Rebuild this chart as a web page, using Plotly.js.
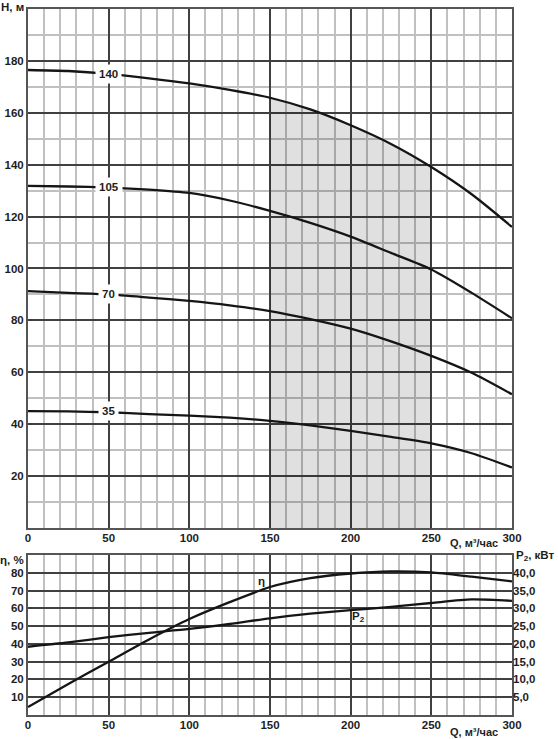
<!DOCTYPE html>
<html>
<head>
<meta charset="utf-8">
<script src="https://cdn.plot.ly/plotly-3.0.1.min.js"></script>
<style>html,body{margin:0;padding:0;background:#fff;}#chart{width:558px;height:739px;}</style>
</head>
<body>
<div id="chart"></div>
<script>
// ---- data ----
var Q = [0, 25, 50, 75, 100, 125, 150, 175, 200, 225, 250, 275, 300];
var H140 = [176.5, 176.1, 175.0, 173.3, 171.3, 168.8, 165.8, 161.3, 155.2, 148.0, 139.1, 128.6, 116.0];
var H105 = [131.8, 131.6, 131.2, 130.4, 129.1, 126.2, 122.2, 117.6, 112.3, 106.0, 99.6, 90.6, 80.8];
var H70  = [91.3, 90.6, 90.0, 88.8, 87.5, 85.8, 83.6, 80.5, 76.8, 71.9, 66.3, 59.8, 51.5];
var H35  = [45.0, 44.9, 44.6, 43.9, 43.3, 42.5, 41.3, 39.5, 37.4, 35.1, 32.6, 28.8, 23.3];
var curveLabels = ['140', '105', '70', '35'];
var labelQ = 50;
var labelH = [174.9, 131.3, 90.3, 45.0];

var shadeFrom = 150, shadeTo = 250;

var Qeta = [0, 25, 50, 75, 100, 125, 150, 175, 200, 225, 250, 275, 300];
var eta  = [4.5, 17.5, 30.0, 42.5, 54.0, 63.5, 72.0, 77.0, 79.6, 80.8, 80.2, 77.8, 75.2];
var Qp2  = [0, 25, 50, 75, 100, 125, 150, 175, 200, 225, 250, 275, 300];
var P2   = [19.2, 20.4, 21.9, 23.1, 24.2, 25.6, 27.2, 28.5, 29.5, 30.4, 31.5, 32.5, 32.1];

var xTicks = [0, 50, 100, 150, 200, 250, 300];
var hTicks = [20, 40, 60, 80, 100, 120, 140, 160, 180];
var etaTicks = [10, 20, 30, 40, 50, 60, 70, 80];
var p2Ticks = [5, 10, 15, 20, 25, 30, 35, 40];
var p2TickText = ['5,0', '10,0', '15,0', '20,0', '25,0', '30,0', '35,0', '40,0'];

// ---- styles ----
var FONT = 'Liberation Sans, Arial, sans-serif';
var tf = {family: FONT, size: 11.5, color: '#1e1e1e', weight: 'bold'};
var lineCol = '#151515';
var majorGrid = '#404040', minorGrid = '#c0c0c0';
var spl = {shape: 'spline', smoothing: 0.7};

// shaded region from H140 series
var sQ = [], sH = [];
for (var i = 0; i < Q.length; i++) {
  if (Q[i] >= shadeFrom && Q[i] <= shadeTo) { sQ.push(Q[i]); sH.push(H140[i]); }
}

var traces = [
  {x: sQ, y: sH, xaxis: 'x', yaxis: 'y', mode: 'lines', line: {width: 0, shape: spl.shape, smoothing: spl.smoothing},
   fill: 'tozeroy', fillcolor: 'rgba(0,0,0,0.12)', hoverinfo: 'skip'}
];
[H140, H105, H70, H35].forEach(function (h) {
  traces.push({x: Q, y: h, xaxis: 'x', yaxis: 'y', mode: 'lines',
    line: {color: lineCol, width: 2.3, shape: spl.shape, smoothing: spl.smoothing}});
});
traces.push({x: Qeta, y: eta, xaxis: 'x2', yaxis: 'y2', mode: 'lines',
  line: {color: lineCol, width: 2.3, shape: spl.shape, smoothing: spl.smoothing}});
traces.push({x: Qp2, y: P2, xaxis: 'x2', yaxis: 'y3', mode: 'lines',
  line: {color: lineCol, width: 2.3, shape: spl.shape, smoothing: spl.smoothing}});

function xAxis(anchor) {
  return {anchor: anchor, range: [0, 300], tickmode: 'array', tickvals: xTicks, ticks: '',
    ticklabelstandoff: -2,
    showgrid: true, gridcolor: majorGrid, gridwidth: 2, zeroline: false,
    minor: {tickmode: 'linear', tick0: 0, dtick: 10, showgrid: true, gridcolor: minorGrid, gridwidth: 2, ticks: ''},
    showline: true, mirror: true, linecolor: '#555', linewidth: 2, tickfont: tf, fixedrange: true};
}

var annotations = [];
curveLabels.forEach(function (t, k) {
  annotations.push({xref: 'x', yref: 'y', x: labelQ, y: labelH[k], text: t, showarrow: false,
    font: tf, bgcolor: '#ffffff', borderpad: 3});
});
annotations.push({xref: 'paper', yref: 'paper', x: -0.004, y: 1.003, xanchor: 'right', yanchor: 'middle',
  text: 'H, м', showarrow: false, font: tf});
annotations.push({xref: 'paper', yref: 'paper', x: -0.004, y: 0.2195, xanchor: 'right', yanchor: 'middle',
  text: 'η, %', showarrow: false, font: tf});
annotations.push({xref: 'paper', yref: 'paper', x: 1.004, y: 0.2255, xanchor: 'left', yanchor: 'middle',
  text: 'P<sub>2</sub>, кВт', showarrow: false, font: tf});
annotations.push({xref: 'paper', yref: 'paper', x: 0.9215, y: 0.2436, xanchor: 'center', yanchor: 'middle',
  text: 'Q, м³/час', showarrow: false, font: {family: FONT, size: 11, color: '#1e1e1e', weight: 'bold'}});
annotations.push({xref: 'paper', yref: 'paper', x: 0.9215, y: -0.024, xanchor: 'center', yanchor: 'middle',
  text: 'Q, м³/час', showarrow: false, font: {family: FONT, size: 11, color: '#1e1e1e', weight: 'bold'}});
annotations.push({xref: 'x2', yref: 'y2', x: 145, y: 75.6, text: 'η', showarrow: false, font: tf});
annotations.push({xref: 'x2', yref: 'y2', x: 205, y: 55, text: 'P<sub>2</sub>', showarrow: false, font: tf});

var layout = {
  width: 558, height: 739,
  margin: {l: 28, r: 46, t: 9, b: 24, pad: 0},
  paper_bgcolor: '#fff', plot_bgcolor: '#fff',
  showlegend: false,
  xaxis: xAxis('y'),
  yaxis: {domain: [0.2649, 1], range: [0, 200], tickmode: 'array', tickvals: hTicks, ticks: '',
    showgrid: true, gridcolor: majorGrid, gridwidth: 2, zeroline: false,
    minor: {tickmode: 'linear', tick0: 0, dtick: 10, showgrid: true, gridcolor: minorGrid, gridwidth: 2, ticks: ''},
    showline: true, mirror: true, linecolor: '#555', linewidth: 2, tickfont: tf, fixedrange: true},
  xaxis2: xAxis('y2'),
  yaxis2: {domain: [0, 0.2266], range: [0, 90], tickmode: 'array', tickvals: etaTicks, ticks: '',
    showgrid: true, gridcolor: majorGrid, gridwidth: 2, zeroline: false,
    showline: true, mirror: true, linecolor: '#555', linewidth: 2, tickfont: tf, fixedrange: true},
  yaxis3: {overlaying: 'y2', side: 'right', anchor: 'x2', range: [0, 45], tickmode: 'array',
    tickvals: p2Ticks, ticktext: p2TickText, ticks: '', showgrid: false, zeroline: false,
    showline: false, tickfont: tf, fixedrange: true},
  annotations: annotations
};

Plotly.newPlot('chart', traces, layout, {staticPlot: true, displayModeBar: false});
</script>
</body>
</html>
